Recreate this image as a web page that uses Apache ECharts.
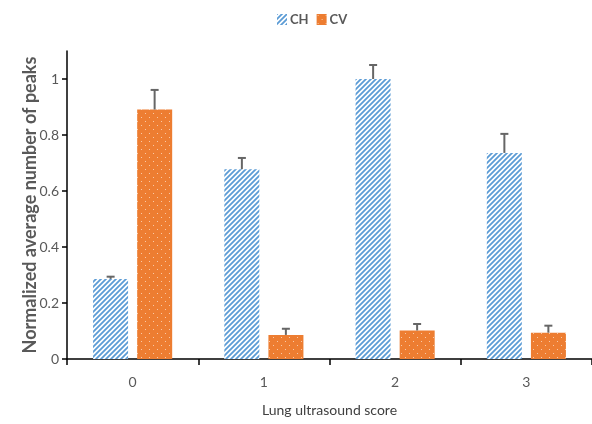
<!DOCTYPE html>
<html>
<head>
<meta charset="utf-8">
<script src="https://cdn.jsdelivr.net/npm/echarts@6/dist/echarts.min.js"></script>
<style>
html,body{margin:0;padding:0;background:#fff;}
#chart{width:592px;height:424px;}
</style>
</head>
<body>
<div id="chart"></div>
<script>
const categories = ['0', '1', '2', '3'];
const chMean = [0.286, 0.678, 1.0, 0.736];
const chErr = [0.008, 0.040, 0.050, 0.068];
const cvMean = [0.891, 0.086, 0.102, 0.094];
const cvErr = [0.070, 0.022, 0.023, 0.025];
const yTicks = [0, 0.2, 0.4, 0.6, 0.8, 1];

function hatchPattern() {
  const c = document.createElement('canvas');
  const s = 5;
  c.width = s; c.height = s;
  const g = c.getContext('2d');
  g.fillStyle = '#ffffff';
  g.fillRect(0, 0, s, s);
  g.strokeStyle = '#5b9bd5';
  g.lineWidth = 1.8;
  g.beginPath();
  g.moveTo(-1, s + 1); g.lineTo(s + 1, -1);
  g.moveTo(-1, 1); g.lineTo(1, -1);
  g.moveTo(s - 1, s + 1); g.lineTo(s + 1, s - 1);
  g.stroke();
  return c;
}
function dotPattern() {
  const c = document.createElement('canvas');
  c.width = 8; c.height = 8;
  const g = c.getContext('2d');
  g.fillStyle = '#ed7d31';
  g.fillRect(0, 0, 8, 8);
  g.fillStyle = '#f9c9a6';
  g.fillRect(1, 1, 1, 1);
  g.fillRect(5, 5, 1, 1);
  return c;
}

const hatch = { image: hatchPattern(), repeat: 'repeat' };
const dots = { image: dotPattern(), repeat: 'repeat' };

function errorBar(offset) {
  return function (params, api) {
    const base = api.coord([api.value(0), api.value(1)]);
    const top = api.coord([api.value(0), api.value(1) + api.value(2)]);
    const cx = base[0] + offset;
    const st = { stroke: '#666666', lineWidth: 2 };
    return {
      type: 'group',
      children: [
        { type: 'line', shape: { x1: cx, y1: base[1], x2: cx, y2: top[1] }, style: st },
        { type: 'line', shape: { x1: cx - 4, y1: top[1], x2: cx + 4, y2: top[1] }, style: st }
      ]
    };
  };
}

const chart = echarts.init(document.getElementById('chart'), null, { renderer: 'canvas' });
const font = 'Lato, "Open Sans", sans-serif';
chart.setOption({
  animation: false,
  textStyle: { fontFamily: font },
  legend: {
    top: 8,
    left: 272,
    itemWidth: 10,
    itemHeight: 11,
    itemGap: 8,
    icon: 'rect',
    data: ['CH', 'CV'],
    textStyle: { fontFamily: font, fontSize: 13, fontWeight: 'bold', color: '#595959', padding: [0, 0, 0, -2] }
  },
  grid: { left: 67, right: 0, top: 51, bottom: 65, containLabel: false },
  xAxis: {
    type: 'category',
    data: categories,
    name: 'Lung ultrasound score',
    nameLocation: 'middle',
    nameGap: 44,
    nameTextStyle: { fontFamily: font, fontSize: 14, color: '#404040' },
    axisLine: { lineStyle: { color: '#000', width: 1.5 } },
    axisTick: { show: true, length: 6, lineStyle: { color: '#000', width: 1.5 } },
    axisLabel: { margin: 16, fontFamily: font, fontSize: 14, color: '#595959' }
  },
  yAxis: {
    type: 'value',
    min: 0,
    max: 1.1,
    interval: 0.2,
    name: 'Normalized average number of peaks',
    nameLocation: 'middle',
    nameGap: 28,
    nameMoveOverlap: false,
    nameTextStyle: { fontFamily: font, fontSize: 18, fontWeight: 'bold', color: '#595959' },
    splitLine: { show: false },
    axisLine: { show: true, lineStyle: { color: '#000', width: 1.5 } },
    axisTick: { show: true, length: 5, customValues: yTicks, lineStyle: { color: '#000', width: 1.5 } },
    axisLabel: { customValues: yTicks, margin: 8, fontFamily: font, fontSize: 14, color: '#595959' }
  },
  series: [
    { name: 'CH', type: 'bar', data: chMean, barWidth: 35, barGap: '26%',
      itemStyle: { color: hatch } },
    { name: 'CV', type: 'bar', data: cvMean, barWidth: 35, barGap: '26%',
      itemStyle: { color: dots } },
    { name: 'CHerr', type: 'custom', renderItem: errorBar(-22), z: 5,
      data: chMean.map((v, i) => [i, v, chErr[i]]), silent: true },
    { name: 'CVerr', type: 'custom', renderItem: errorBar(22), z: 5,
      data: cvMean.map((v, i) => [i, v, cvErr[i]]), silent: true }
  ]
});
</script>
</body>
</html>
